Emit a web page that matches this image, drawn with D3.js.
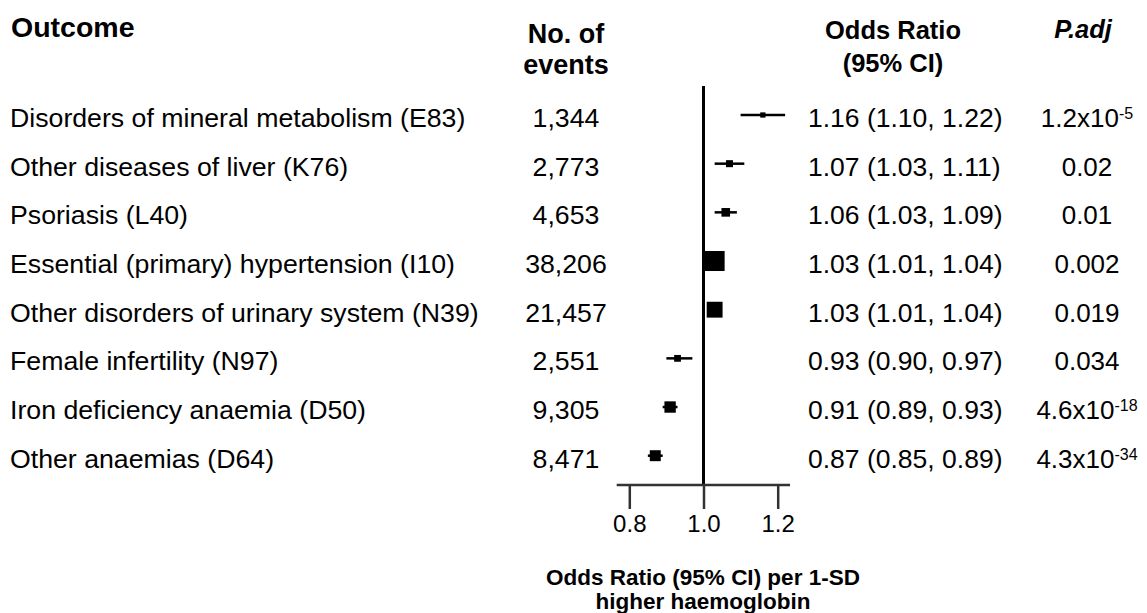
<!DOCTYPE html>
<html lang="en">
<head>
    <meta charset="UTF-8">
    <title>Forest plot - haemoglobin</title>
    <script src="https://d3js.org/d3.v7.min.js"></script>
    <style>
        body {
            margin: 0;
            background: #fff;
        }
        svg text {
            font-family: "Liberation Sans", Arial, Helvetica, sans-serif;
            fill: #000;
        }
    </style>
</head>
<body>
    <svg id="chart" width="1147" height="613"></svg>

    <script>
        // chart data
        const outcomes = [
            "Disorders of mineral metabolism (E83)",
            "Other diseases of liver (K76)",
            "Psoriasis (L40)",
            "Essential (primary) hypertension (I10)",
            "Other disorders of urinary system (N39)",
            "Female infertility (N97)",
            "Iron deficiency anaemia (D50)",
            "Other anaemias (D64)"
        ];
        const events = [1344, 2773, 4653, 38206, 21457, 2551, 9305, 8471];
        const oddsRatio = [1.16, 1.07, 1.06, 1.03, 1.03, 0.93, 0.91, 0.87];
        const ciLow = [1.10, 1.03, 1.03, 1.01, 1.01, 0.90, 0.89, 0.85];
        const ciHigh = [1.22, 1.11, 1.09, 1.04, 1.04, 0.97, 0.93, 0.89];
        const pBase = ["1.2x10", "0.02", "0.01", "0.002", "0.019", "0.034", "4.6x10", "4.3x10"];
        const pExp = ["-5", "", "", "", "", "", "-18", "-34"];
        const xTicks = [0.8, 1.0, 1.2];

        const rows = outcomes.map((d, i) => ({
            outcome: d, events: events[i], or: oddsRatio[i],
            lo: ciLow[i], hi: ciHigh[i], pBase: pBase[i], pExp: pExp[i]
        }));

        const svg = d3.select("#chart");

        const x = d3.scaleLinear().domain([0.8, 1.2]).range([629.3, 777.7]);
        const y = d3.scalePoint().domain(d3.range(rows.length)).range([115, 455.7]);
        const box = d3.scalePow().exponent(0.4).domain([0, d3.max(events)]).range([0, 20]);

        const fmt2 = d3.format(".2f");
        const fmtN = d3.format(",");

        const axisY = 485;
        const rowFont = 26.7;
        const textDy = 12;

        // headers
        const head = svg.append("g").attr("font-weight", "bold");
        head.append("text").attr("x", 11).attr("y", 37).attr("font-size", 28.5).text("Outcome");
        head.append("text").attr("x", 566).attr("y", 43).attr("font-size", 27)
            .attr("text-anchor", "middle").text("No. of");
        head.append("text").attr("x", 566).attr("y", 74).attr("font-size", 27)
            .attr("text-anchor", "middle").text("events");
        head.append("text").attr("x", 893).attr("y", 39).attr("font-size", 25.5)
            .attr("text-anchor", "middle").text("Odds Ratio");
        head.append("text").attr("x", 893).attr("y", 72).attr("font-size", 25.5)
            .attr("text-anchor", "middle").text("(95% CI)");
        head.append("text").attr("x", 1083).attr("y", 38).attr("font-size", 25.5)
            .attr("text-anchor", "middle").attr("font-style", "italic").text("P.adj");

        // row text columns
        const rowG = svg.append("g").attr("font-size", rowFont);

        rowG.selectAll(".outcome")
            .data(rows)
            .enter()
            .append("text")
            .attr("class", "outcome")
            .attr("x", 10)
            .attr("y", (d, i) => y(i) + textDy)
            .text(d => d.outcome);

        rowG.selectAll(".events")
            .data(rows)
            .enter()
            .append("text")
            .attr("class", "events")
            .attr("x", 566)
            .attr("y", (d, i) => y(i) + textDy)
            .attr("text-anchor", "middle")
            .text(d => fmtN(d.events));

        rowG.selectAll(".ortext")
            .data(rows)
            .enter()
            .append("text")
            .attr("class", "ortext")
            .attr("x", 808)
            .attr("y", (d, i) => y(i) + textDy)
            .attr("font-size", 26.5)
            .text(d => fmt2(d.or) + " (" + fmt2(d.lo) + ", " + fmt2(d.hi) + ")");

        const pText = rowG.selectAll(".ptext")
            .data(rows)
            .enter()
            .append("text")
            .attr("class", "ptext")
            .attr("x", 1087)
            .attr("y", (d, i) => y(i) + textDy)
            .attr("font-size", 26)
            .attr("text-anchor", "middle");
        pText.append("tspan").text(d => d.pBase);
        pText.filter(d => d.pExp !== "")
            .append("tspan")
            .attr("font-size", 16)
            .attr("dy", -8)
            .text(d => d.pExp);

        // reference line at OR = 1
        svg.append("line")
            .attr("x1", x(1)).attr("x2", x(1))
            .attr("y1", 86).attr("y2", axisY)
            .attr("stroke", "#000")
            .attr("stroke-width", 3);

        // confidence intervals
        svg.selectAll(".ci")
            .data(rows)
            .enter()
            .append("line")
            .attr("class", "ci")
            .attr("x1", d => x(d.lo))
            .attr("x2", d => x(d.hi))
            .attr("y1", (d, i) => y(i))
            .attr("y2", (d, i) => y(i))
            .attr("stroke", "#000")
            .attr("stroke-width", 2.5);

        // point estimates
        svg.selectAll(".est")
            .data(rows)
            .enter()
            .append("rect")
            .attr("class", "est")
            .attr("x", d => x(d.or) - box(d.events) / 2)
            .attr("y", (d, i) => y(i) - box(d.events) / 2)
            .attr("width", d => box(d.events))
            .attr("height", d => box(d.events))
            .attr("fill", "#000");

        // x axis
        const axis = svg.append("g")
            .attr("transform", "translate(0," + axisY + ")")
            .call(d3.axisBottom(x).tickValues(xTicks).tickFormat(d3.format(".1f")).tickSize(24).tickPadding(6));
        axis.select(".domain").remove();
        axis.selectAll(".tick line").attr("stroke", "#333").attr("stroke-width", 2.5);
        axis.selectAll(".tick text")
            .attr("font-size", 24)
            .attr("font-family", "Liberation Sans, Arial, sans-serif")
            .attr("fill", "#000");
        axis.append("line")
            .attr("x1", x(0.8) - 12.6).attr("x2", x(1.2) + 12.3)
            .attr("stroke", "#333")
            .attr("stroke-width", 2.5);

        // axis title
        const title = svg.append("g").attr("font-weight", "bold").attr("font-size", 22.5)
            .attr("text-anchor", "middle");
        title.append("text").attr("x", 703).attr("y", 585).text("Odds Ratio (95% CI) per 1-SD");
        title.append("text").attr("x", 703).attr("y", 609).text("higher haemoglobin");
    </script>
</body>
</html>
